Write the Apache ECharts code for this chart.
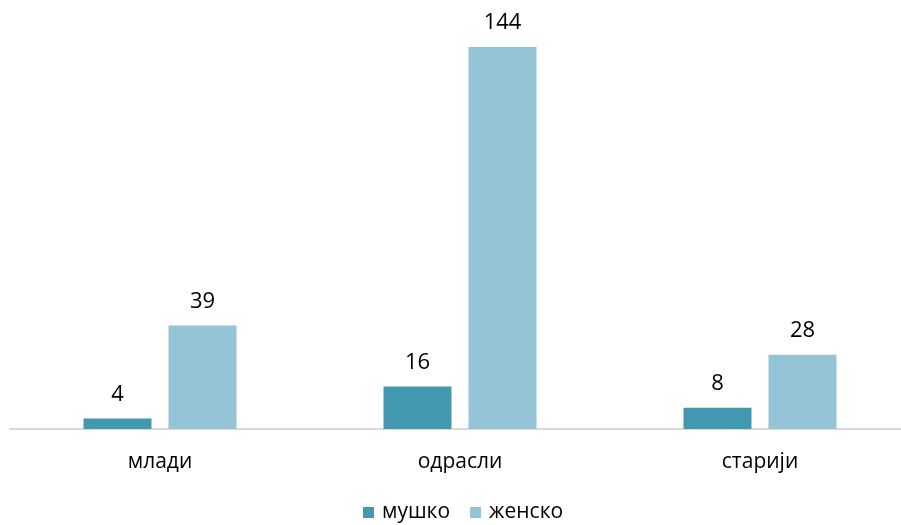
<!DOCTYPE html>
<html><head><meta charset="utf-8">
<script src="https://cdn.jsdelivr.net/npm/echarts@6/dist/echarts.min.js"></script>
<style>html,body{margin:0;padding:0;background:#fff}#c{width:901px;height:525px}</style>
</head><body><div id="c"></div>
<script>
const categories = ['млади', 'одрасли', 'старији'];
const male = [4, 16, 8];
const female = [39, 144, 28];
const seriesNames = ['мушко', 'женско'];
const font = '"Open Sans", "Noto Sans", sans-serif';
const chart = echarts.init(document.getElementById('c'), null, {renderer: 'canvas'});
const lbl = {show: true, position: 'top', distance: 13, color: '#000', fontSize: 22, fontFamily: font};
chart.setOption({
  animation: false,
  grid: {left: 10, width: 900, top: 47, bottom: 96, containLabel: false, outerBoundsMode: 'none'},
  legend: {
    bottom: -3, left: 358, itemWidth: 11, itemHeight: 11, itemGap: 20,
    icon: 'rect',
    textStyle: {fontSize: 21, fontFamily: font, color: '#000', padding: [0, 0, 0, 3]},
    data: seriesNames
  },
  xAxis: {
    type: 'category', data: categories,
    axisLine: {lineStyle: {color: '#d9d9d9', width: 2}},
    axisTick: {show: false},
    axisLabel: {fontSize: 21, fontFamily: font, color: '#000', margin: 23}
  },
  yAxis: {type: 'value', min: 0, max: 144, show: false, splitLine: {show: false}},
  series: [
    {name: seriesNames[0], type: 'bar', data: male, barWidth: 68, barGap: '25%', itemStyle: {color: '#4299AF'}, label: lbl},
    {name: seriesNames[1], type: 'bar', data: female, barWidth: 68, itemStyle: {color: '#94C4D5'}, label: lbl}
  ]
});
</script></body></html>
